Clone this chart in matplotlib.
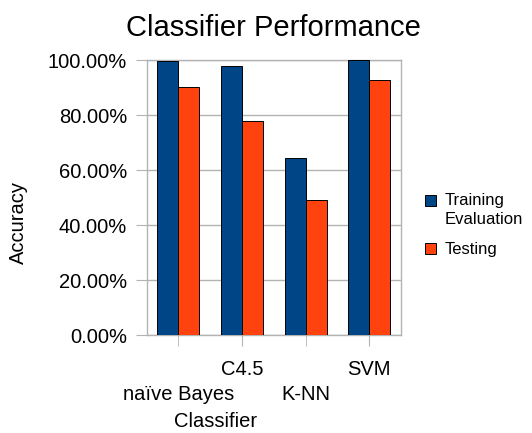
import numpy as np
import matplotlib
matplotlib.use("Agg")
import matplotlib.pyplot as plt
from matplotlib.ticker import PercentFormatter

plt.rcParams['font.family'] = ['Liberation Sans', 'DejaVu Sans']

# Data (accuracy in %)
classifiers = ["naïve Bayes", "C4.5", "K-NN", "SVM"]
training = [99.8, 97.8, 64.4, 100.0]
testing = [90.1, 77.8, 49.1, 92.6]
series_names = ["Training\nEvaluation", "Testing"]

blue = "#004586"
orange = "#ff420e"
grey = "#b3b3b3"

fig = plt.figure(figsize=(5.32, 4.33), dpi=100)
ax = fig.add_axes([0.2757, 0.2263, 0.4780, 0.6351])

x = np.arange(len(classifiers))
w = 0.33
ax.bar(x - w / 2, training, w, color=blue, edgecolor="black", linewidth=0.7,
       label=series_names[0], zorder=3)
ax.bar(x + w / 2, testing, w, color=orange, edgecolor="black", linewidth=0.7,
       label=series_names[1], zorder=3)

ax.set_xlim(-0.5, len(classifiers) - 0.5)
ax.set_ylim(0, 100)
ax.set_yticks(np.arange(0, 101, 20))
ax.yaxis.set_major_formatter(PercentFormatter(xmax=100, decimals=2))
ax.grid(axis="y", color=grey, linewidth=1, zorder=0)

# staggered category labels
ax.set_xticks(x[1::2], [classifiers[i] for i in x[1::2]])
ax.set_xticks(x[0::2], [classifiers[i] for i in x[0::2]], minor=True)
ax.tick_params(axis="x", which="both", length=8, color=grey, labelsize=14.5)
ax.tick_params(axis="x", which="major", pad=10)
ax.tick_params(axis="x", which="minor", pad=28)
ax.tick_params(axis="y", length=8, color=grey, labelsize=14.5, pad=6)

for s in ax.spines.values():
    s.set_color(grey)
    s.set_linewidth(1)

ax.set_title("Classifier Performance", fontsize=21, pad=17)
ax.set_ylabel("Accuracy", fontsize=14.5)
ax.yaxis.set_label_coords(-0.506, 0.41)
ax.yaxis.label.set_va("center")
ax.set_xlabel("Classifier", fontsize=14.5)
ax.xaxis.set_label_coords(0.27, -0.316)
ax.xaxis.label.set_va("center")

leg = fig.legend(loc="center left", bbox_to_anchor=(0.77, 0.48), frameon=False,
                 fontsize=12, handlelength=0.7, handleheight=0.7,
                 handletextpad=0.5, labelspacing=0.9)
for t in leg.get_texts():
    t.set_linespacing(1.35)
# put the first swatch next to the first line of its two-line label
h0 = leg.legend_handles[0]
h0.set_y(h0.get_y() + 7)

fig.savefig("out.png", dpi=100)
